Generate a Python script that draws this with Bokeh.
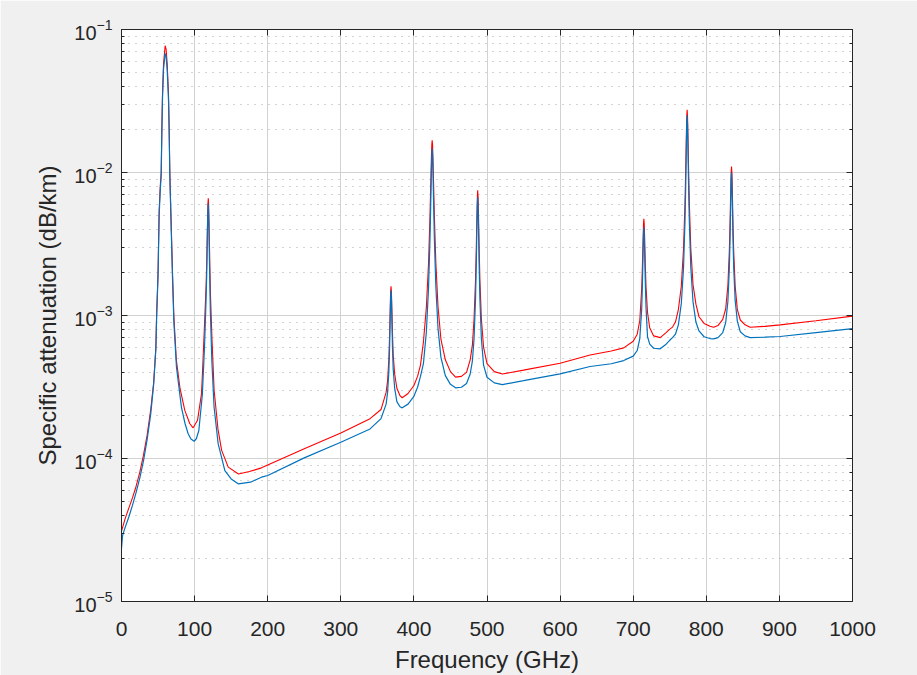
from bokeh.plotting import figure
from bokeh.models import (Range1d, LinearAxis, LogAxis, ColumnDataSource, FixedTicker, LogTicker,
                          CustomJSTickFormatter)
from bokeh.embed import file_html
from bokeh.resources import INLINE

# ---- data ----
x_ticks = [0, 100, 200, 300, 400, 500, 600, 700, 800, 900, 1000]

red_freq = [0, 1.5, 5, 10, 15, 20, 25, 30, 35, 40, 44, 47, 48, 50, 51.5, 53, 54.3, 55.2, 56.1, 57.5,
            59.7, 61, 62.5, 64.3, 65.2, 66.1, 67.5, 69.8, 71.6, 75, 80, 86.6, 93.5, 98, 104, 109.4,
            110.7, 113.7, 115.7, 116.7, 117.7, 118.2, 118.7, 119.2, 119.7, 120.7, 121.7, 123.7, 126.7,
            132, 137, 146, 160, 175, 191.5, 200, 250, 300, 340, 355, 362, 364, 365.7, 366.7, 367.7,
            368.2, 368.7, 369.2, 369.7, 370.7, 371.7, 373.7, 376.7, 381, 384, 392, 400, 405, 409, 413,
            417, 420, 422, 423, 424, 424.5, 425, 425.5, 426, 427, 428, 430, 433, 437, 443, 450, 457,
            465, 472, 477, 480, 482.3, 484.3, 485.3, 486.3, 486.8, 487.3, 487.8, 488.3, 489.3, 490.3,
            492.3, 495.3, 500, 510, 521, 550, 600, 641, 670, 687, 700, 705.5, 709, 711.6, 712.6,
            713.6, 714.1, 714.6, 715.1, 715.6, 716.6, 717.6, 719.6, 722.6, 728, 737, 745, 749.6,
            753.8, 757.8, 761.8, 765.8, 768.8, 770.8, 771.8, 772.8, 773.3, 773.8, 774.3, 774.8, 775.8,
            776.8, 778.8, 781.8, 785.8, 790, 797, 805, 810, 816, 822.5, 826.5, 829.5, 831.5, 832.5,
            833.5, 834, 834.5, 835, 835.5, 836.5, 837.5, 839.5, 842.5, 846.5, 853, 860, 880, 901,
            950, 1000]
red_att = [3.1e-5, 3.3e-5, 3.8e-5, 4.5e-5, 5.3e-5, 6.4e-5, 8.0e-5, 1.05e-4, 1.45e-4, 2.2e-4, 3.4e-4,
           6.0e-4, 1.0e-3, 2.0e-3, 5.4e-3, 8.0e-3, 1.0e-2, 2.07e-2, 3.55e-2, 5.75e-2,
           7.7e-2, 7.3e-2, 5.75e-2, 3.55e-2, 2.07e-2, 1.0e-2, 5.4e-3, 2.0e-3, 1.0e-3, 4.9e-4, 3.1e-4,
           2.17e-4, 1.75e-4, 1.64e-4, 1.85e-4, 2.83e-4,
           3.9e-4, 9.0e-4, 1.6e-3, 2.5e-3, 4.6e-3, 6.0e-3, 6.6e-3, 6.0e-3, 4.6e-3, 2.5e-3, 1.4e-3,
           7.0e-4, 3.0e-4,
           1.6e-4, 1.14e-4, 8.7e-5, 7.8e-5, 8.1e-5, 8.6e-5, 9.0e-5, 1.17e-4, 1.51e-4, 1.9e-4, 2.2e-4,
           2.9e-4, 3.5e-4, 4.9e-4, 7.2e-4, 1.17e-3,
           1.47e-3, 1.6e-3, 1.47e-3, 1.2e-3, 7.5e-4, 5.3e-4, 3.9e-4, 3.1e-4, 2.75e-4, 2.66e-4, 2.85e-4,
           3.24e-4, 3.75e-4, 4.5e-4, 6.5e-4,
           1.13e-3, 2.3e-3, 4.95e-3, 8.0e-3, 1.31e-2, 1.56e-2, 1.68e-2, 1.56e-2, 1.31e-2, 8.1e-3,
           5.0e-3, 2.35e-3, 1.15e-3, 6.8e-4, 4.9e-4, 4.05e-4, 3.71e-4,
           3.75e-4, 4.0e-4, 4.9e-4, 6.2e-4, 9.5e-4, 1.77e-3, 2.9e-3, 5.3e-3, 6.75e-3, 7.5e-3, 6.75e-3,
           5.3e-3, 2.9e-3, 1.77e-3,
           9.5e-4, 6.0e-4, 4.6e-4, 4.05e-4, 3.9e-4, 4.15e-4, 4.64e-4, 5.3e-4, 5.65e-4, 5.94e-4,
           6.6e-4, 7.4e-4, 9.2e-4, 1.54e-3, 2.23e-3,
           3.58e-3, 4.36e-3, 4.75e-3, 4.36e-3, 3.58e-3, 2.23e-3, 1.56e-3, 1.05e-3, 8.2e-4, 7.2e-4,
           7.0e-4, 7.6e-4, 8.0e-4,
           8.3e-4, 9.0e-4, 1.1e-3, 1.6e-3, 2.9e-3, 6.0e-3, 1.03e-2, 1.92e-2, 2.48e-2, 2.75e-2, 2.48e-2,
           1.93e-2, 1.04e-2,
           6.1e-3, 2.95e-3, 1.65e-3, 1.2e-3, 9.8e-4, 8.8e-4, 8.4e-4, 8.28e-4, 8.5e-4, 9.4e-4, 1.11e-3,
           1.61e-3, 2.82e-3, 4.46e-3,
           7.9e-3, 1.0e-2, 1.1e-2, 1.0e-2, 7.9e-3, 4.45e-3, 2.8e-3, 1.6e-3, 1.1e-3, 9.3e-4, 8.6e-4,
           8.28e-4, 8.4e-4, 8.6e-4,
           9.2e-4, 9.9e-4]

blue_freq = [0, 1.5, 5, 10, 15, 20, 25, 30, 35, 40, 44, 47, 48, 50, 51.5, 53, 54.3, 55.2, 56.1, 57.5,
             59.7, 61, 62.5, 64.3, 65.2, 66.1, 67.5, 69.8, 71.6, 75.2, 82, 87, 91.2, 95, 99.4, 102.5,
             105.8, 110.6, 113.6, 115.6, 116.6, 117.6, 118.1, 118.6, 119.1, 119.6, 120.6, 121.6, 123.6,
             126.6, 132.2, 141.4, 150, 159.6, 176.5, 191.5, 200, 250, 300, 340, 355, 362, 364, 365.7,
             366.7, 367.7, 368.2, 368.7, 369.2, 369.7, 370.7, 371.7, 373.7, 376.7, 381, 384, 392, 400,
             405, 409, 413, 417, 420, 422, 423, 424, 424.5, 425, 425.5, 426, 427, 428, 430, 433, 437,
             443, 450, 457, 465, 472, 477, 480, 482.3, 484.3, 485.3, 486.3, 486.8, 487.3, 487.8, 488.3,
             489.3, 490.3, 492.3, 495.3, 500, 510, 521, 550, 600, 641, 670, 687, 700, 705.5, 709, 711.6,
             712.6, 713.6, 714.1, 714.6, 715.1, 715.6, 716.6, 717.6, 719.6, 722.6, 728, 737, 745,
             749.6, 753.8, 757.8, 761.8, 765.8, 768.8, 770.8, 771.8, 772.8, 773.3, 773.8, 774.3, 774.8,
             775.8, 776.8, 778.8, 781.8, 785.8, 790, 797, 805, 810, 816, 822.5, 826.5, 829.5, 831.5,
             832.5, 833.5, 834, 834.5, 835, 835.5, 836.5, 837.5, 839.5, 842.5, 846.5, 853, 860, 880,
             901, 950, 1000]
blue_att = [2.35e-5, 2.9e-5, 3.3e-5, 3.9e-5, 4.7e-5, 5.8e-5, 7.3e-5, 9.6e-5, 1.35e-4, 2.05e-4, 3.3e-4,
            5.8e-4, 9.5e-4, 1.9e-3, 5.0e-3, 7.5e-3, 9.5e-3, 1.9e-2, 3.3e-2, 5.3e-2,
            6.8e-2, 6.5e-2, 5.2e-2, 3.2e-2, 1.9e-2, 9.5e-3, 5.0e-3, 1.8e-3, 9.0e-4, 4.35e-4, 2.28e-4,
            1.75e-4, 1.49e-4, 1.37e-4, 1.32e-4, 1.38e-4,
            1.57e-4, 2.8e-4, 6.1e-4, 1.25e-3, 1.93e-3, 3.9e-3, 5.3e-3, 6.07e-3, 5.3e-3, 3.9e-3, 1.93e-3,
            1.05e-3, 4.8e-4,
            2.3e-4, 1.27e-4, 8.24e-5, 7.2e-5, 6.65e-5, 6.83e-5, 7.4e-5, 7.6e-5, 1.01e-4, 1.3e-4, 1.61e-4,
            1.9e-4, 2.4e-4, 2.9e-4, 4.0e-4,
            5.8e-4, 1.02e-3, 1.33e-3, 1.5e-3, 1.35e-3, 1.04e-3, 6.0e-4, 4.2e-4, 3.1e-4, 2.5e-4, 2.3e-4,
            2.26e-4, 2.4e-4, 2.72e-4,
            3.15e-4, 3.75e-4, 4.6e-4, 7.6e-4, 1.55e-3, 3.4e-3, 5.85e-3, 1.06e-2, 1.33e-2, 1.47e-2,
            1.33e-2, 1.06e-2, 5.9e-3, 3.45e-3, 1.6e-3, 8.1e-4, 5.1e-4,
            3.8e-4, 3.3e-4, 3.12e-4, 3.15e-4, 3.35e-4, 3.9e-4, 4.8e-4, 6.9e-4, 1.3e-3, 2.2e-3, 4.35e-3,
            5.9e-3, 6.7e-3, 5.9e-3, 4.35e-3,
            2.2e-3, 1.3e-3, 6.9e-4, 4.5e-4, 3.7e-4, 3.38e-4, 3.29e-4, 3.5e-4, 3.91e-4, 4.4e-4, 4.6e-4,
            4.84e-4, 5.2e-4, 5.69e-4, 6.9e-4, 1.1e-3,
            1.63e-3, 2.85e-3, 3.7e-3, 4.14e-3, 3.7e-3, 2.87e-3, 1.66e-3, 1.12e-3, 7.1e-4, 6.3e-4,
            5.9e-4, 5.85e-4, 6.3e-4,
            6.68e-4, 7.0e-4, 7.4e-4, 8.6e-4, 1.21e-3, 2.13e-3, 4.45e-3, 7.85e-3, 1.6e-2, 2.19e-2,
            2.51e-2, 2.19e-2, 1.6e-2,
            7.9e-3, 4.5e-3, 2.17e-3, 1.25e-3, 9.0e-4, 7.8e-4, 7.1e-4, 6.9e-4, 6.87e-4, 7.0e-4, 7.6e-4,
            8.9e-4, 1.25e-3, 2.13e-3,
            3.44e-3, 6.55e-3, 8.85e-3, 1.0e-2, 8.85e-3, 6.55e-3, 3.45e-3, 2.15e-3, 1.27e-3, 9.1e-4,
            7.7e-4, 7.2e-4, 7.0e-4, 7.05e-4,
            7.13e-4, 7.6e-4, 8.1e-4]

x_label = "Frequency (GHz)"
y_label = "Specific attenuation (dB/km)"

# ---- figure ----
AX = "#262626"
FONT = "Liberation Sans"

p = figure(frame_width=731, frame_height=572,
           x_range=Range1d(0, 1000), y_range=Range1d(1e-5, 1e-1),
           y_axis_type="log", output_backend="svg", toolbar_location=None,
           min_border_left=121, min_border_right=65, min_border_top=29, min_border_bottom=74,
           border_fill_color="#f0f0f0", background_fill_color="white",
           outline_line_color=None)

red_src = ColumnDataSource(dict(f=red_freq, a=red_att))
blue_src = ColumnDataSource(dict(f=blue_freq, a=blue_att))
p.line("f", "a", source=red_src, line_color="#ff0000", line_width=1.1)
p.line("f", "a", source=blue_src, line_color="#0072bd", line_width=1.2)

xt = FixedTicker(ticks=x_ticks)
p.xaxis.ticker = xt
p.xgrid.ticker = xt

# grids
p.xgrid.grid_line_color = "#d2d2d2"
p.ygrid.grid_line_color = "#d2d2d2"
p.ygrid.minor_grid_line_color = "#a8a8a8"
p.ygrid.minor_grid_line_dash = "1 6"
p.xgrid.level = "underlay"
p.ygrid.level = "underlay"

blank = CustomJSTickFormatter(code="return '';")


def style(ax, size="20px", minor=True):
    ax.axis_line_color = AX
    ax.axis_line_width = 1
    ax.major_tick_line_color = AX
    ax.major_tick_in = 6
    ax.major_tick_out = 0
    if minor:
        ax.minor_tick_line_color = AX
        ax.minor_tick_in = 3
        ax.minor_tick_out = 0
    else:
        ax.minor_tick_line_color = None
    ax.major_label_text_font = FONT
    ax.major_label_text_color = AX
    ax.major_label_text_font_size = size
    ax.axis_label_text_font = FONT
    ax.axis_label_text_font_size = "24px"
    ax.axis_label_text_font_style = "normal"
    ax.axis_label_text_color = AX


xa = p.xaxis[0]
style(xa, size="21px", minor=False)
xa.axis_label = x_label
xa.major_label_standoff = 20
xa.axis_label_standoff = 7

ya = p.yaxis[0]
style(ya)
ya.axis_label = y_label
ya.major_label_standoff = 9
ya.axis_label_standoff = 10

top = LinearAxis(ticker=xt, formatter=blank)
style(top, minor=False)
top.major_label_standoff = 0
p.add_layout(top, "above")

right = LogAxis(ticker=LogTicker(), formatter=blank)
style(right)
right.major_label_standoff = 0
p.add_layout(right, "right")

open("out.html", "w").write(file_html(p, INLINE))
